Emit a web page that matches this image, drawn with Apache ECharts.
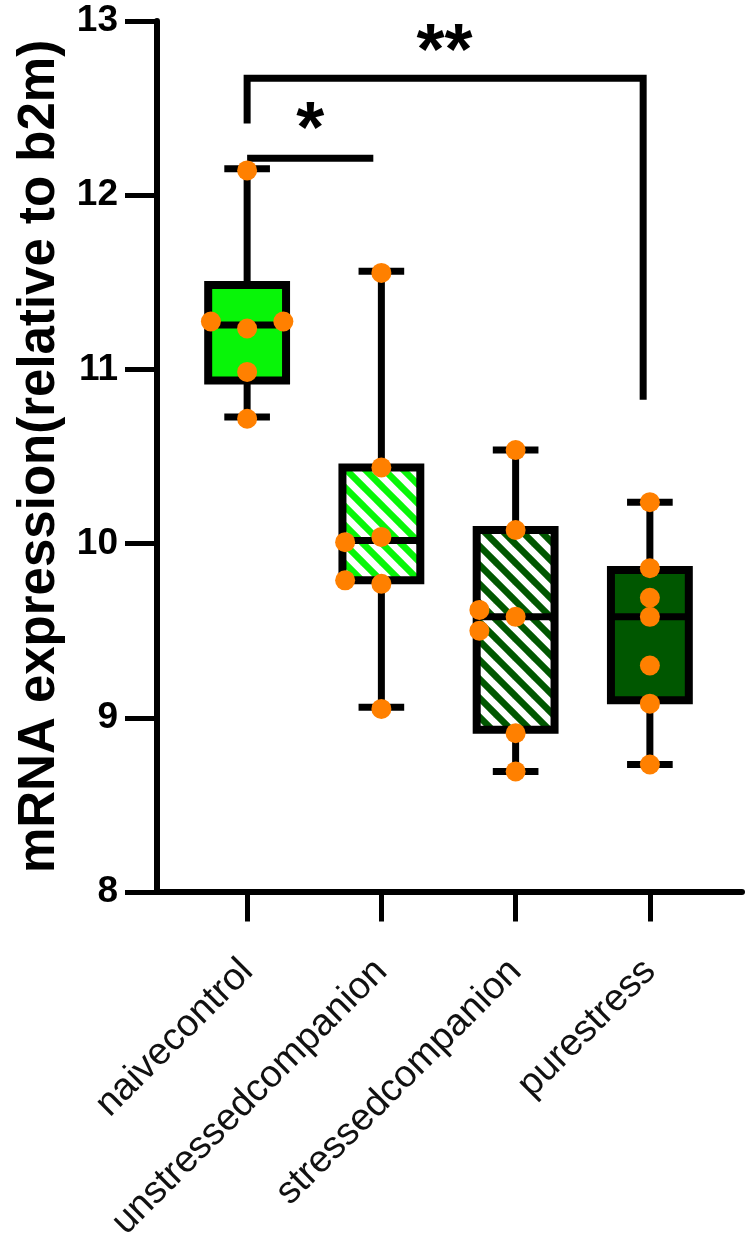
<!DOCTYPE html>
<html>
<head>
<meta charset="utf-8">
<script src="https://cdn.jsdelivr.net/npm/echarts@6/dist/echarts.min.js"></script>
<style>
  html, body { margin: 0; padding: 0; background: #fff; }
  #chart { width: 748px; height: 1244px; }
</style>
</head>
<body>
<div id="chart"></div>
<script>
// groups on the x axis
var categories = ['naivecontrol', 'unstressedcompanion', 'stressedcompanion', 'purestress'];

// box stats: [min, q1, median, q3, max]
var naiveBox = [10.72, 10.93, 11.25, 11.48, 12.15];
var unstressedBox = [9.05, 9.78, 10.01, 10.43, 11.56];
var stressedBox = [8.68, 8.92, 9.57, 10.07, 10.53];
var pureBox = [8.72, 9.09, 9.57, 9.84, 10.23];

// individual animals
var naivePts = [12.14, 11.27, 11.23, 11.27, 10.98, 10.71];
var unstressedPts = [11.55, 10.43, 10.0, 10.03, 9.78, 9.76, 9.04];
var stressedPts = [10.53, 10.07, 9.61, 9.57, 9.49, 8.90, 8.68];
var purePts = [10.23, 9.85, 9.68, 9.57, 9.29, 9.07, 8.72];
// horizontal jitter of the dots, in category units
var naiveJit = [0, -0.27, 0, 0.27, 0, 0];
var unstressedJit = [0, 0, -0.27, 0, -0.27, 0, 0];
var stressedJit = [0, 0, -0.27, 0, -0.27, 0, 0];
var pureJit = [0, 0, 0, 0, 0, 0, 0];

// significance brackets
var sigFrom = [0, 0];
var sigTo = [2.95, 0.94];
var sigTop = [12.67, 12.21];
var sigLeftEnd = [12.41, 12.21];
var sigRightEnd = [10.82, 12.21];
var sigText = ['**', '*'];
var sigTextX = [1.47, 0.47];
var sigTextY = [12.81, 12.36];

var yTicks = [8, 9, 10, 11, 12, 13];

var FONT = '"Liberation Sans", Arial, sans-serif';
var BRIGHT = '#08f508';
var DARK = '#005700';

function stripes(bg) {
    var s = 19;
    var c = document.createElement('canvas');
    c.width = s; c.height = s;
    var g = c.getContext('2d');
    g.fillStyle = bg;
    g.fillRect(0, 0, s, s);
    g.strokeStyle = '#fff';
    g.lineWidth = s * 0.36;
    for (var k = -1; k <= 1; k++) {
        g.beginPath();
        g.moveTo(-s, -s + k * s);
        g.lineTo(2 * s, 2 * s + k * s);
        g.stroke();
    }
    return { image: c, repeat: 'repeat' };
}

var fills = [BRIGHT, stripes(BRIGHT), stripes(DARK), DARK];

var boxes = [naiveBox, unstressedBox, stressedBox, pureBox];
var boxData = boxes.map(function (b, i) { return [i].concat(b); });

var pts = [naivePts, unstressedPts, stressedPts, purePts];
var jit = [naiveJit, unstressedJit, stressedJit, pureJit];
var dotData = [];
pts.forEach(function (arr, i) {
    arr.forEach(function (v, j) { dotData.push([i + jit[i][j], v]); });
});

var sigData = sigFrom.map(function (f, i) {
    return [f, sigTo[i], sigTop[i], sigLeftEnd[i], sigRightEnd[i], sigTextX[i], sigTextY[i]];
});

function renderBox(params, api) {
    var i = api.value(0);
    var lo = api.coord([i, api.value(1)]);
    var q1 = api.coord([i, api.value(2)]);
    var md = api.coord([i, api.value(3)]);
    var q3 = api.coord([i, api.value(4)]);
    var hi = api.coord([i, api.value(5)]);
    var band = api.size([1, 0])[0];
    var bw = band * 0.58, cw = band * 0.34;
    var x = hi[0];
    var line = { stroke: '#000', lineWidth: 7 };
    return {
        type: 'group',
        children: [
            { type: 'line', shape: { x1: x, y1: hi[1], x2: x, y2: q3[1] }, style: line },
            { type: 'line', shape: { x1: x, y1: q1[1], x2: x, y2: lo[1] }, style: line },
            { type: 'line', shape: { x1: x - cw / 2, y1: hi[1], x2: x + cw / 2, y2: hi[1] }, style: line },
            { type: 'line', shape: { x1: x - cw / 2, y1: lo[1], x2: x + cw / 2, y2: lo[1] }, style: line },
            { type: 'rect', shape: { x: x - bw / 2, y: q3[1], width: bw, height: q1[1] - q3[1] },
              style: { fill: fills[i], stroke: '#000', lineWidth: 8 } },
            { type: 'line', shape: { x1: x - bw / 2, y1: md[1], x2: x + bw / 2, y2: md[1] }, style: line }
        ]
    };
}

function renderSig(params, api) {
    var i = params.dataIndex;
    var a = api.coord([api.value(0), api.value(2)]);
    var b = api.coord([api.value(1), api.value(2)]);
    var aEnd = api.coord([api.value(0), api.value(3)]);
    var bEnd = api.coord([api.value(1), api.value(4)]);
    var t = api.coord([api.value(5), api.value(6)]);
    return {
        type: 'group',
        children: [
            { type: 'polyline', shape: { points: [[aEnd[0], aEnd[1]], [a[0], a[1]], [b[0], b[1]], [bEnd[0], bEnd[1]]] },
              style: { stroke: '#000', lineWidth: 7, fill: null } },
            { type: 'text', x: t[0], y: t[1],
              style: { text: sigText[i], font: 'bold 72px ' + FONT, fill: '#000', align: 'center', verticalAlign: 'middle' } }
        ]
    };
}

var chart = echarts.init(document.getElementById('chart'));
chart.setOption({
    backgroundColor: '#fff',
    animation: false,
    grid: [
        { left: 157, right: 6, top: 21, bottom: 352 },
        { left: 180, width: 537, top: 21, bottom: 352 }
    ],
    xAxis: [
        { type: 'value', gridIndex: 0, min: 0, max: 1,
          axisLine: { show: true, lineStyle: { color: '#000', width: 6 } },
          axisTick: { show: false }, axisLabel: { show: false }, splitLine: { show: false } },
        { type: 'category', gridIndex: 1, data: categories, boundaryGap: true,
          axisLine: { show: false },
          axisTick: { show: true, alignWithLabel: true, length: 32, lineStyle: { color: '#000', width: 5 } },
          axisLabel: { rotate: 45, margin: 76, fontSize: 38, fontFamily: FONT, color: '#111', interval: 0 } },
        { type: 'value', gridIndex: 1, min: -0.5, max: 3.5, show: false }
    ],
    yAxis: [
        { type: 'value', gridIndex: 0, min: yTicks[0], max: yTicks[yTicks.length - 1], interval: 1,
          axisLine: { show: true, lineStyle: { color: '#000', width: 6 } },
          axisTick: { show: true, length: 32, lineStyle: { color: '#000', width: 5 } },
          axisLabel: { margin: 39, fontSize: 37, fontWeight: 'bold', fontFamily: FONT, color: '#000' },
          splitLine: { show: false },
          name: 'mRNA expression(relative to b2m)', nameLocation: 'middle', nameGap: 92,
          nameTextStyle: { fontSize: 51, fontWeight: 'bold', fontFamily: FONT, color: '#000' } },
        { type: 'value', gridIndex: 1, min: 8, max: 13, show: false }
    ],
    series: [
        { type: 'custom', xAxisIndex: 2, yAxisIndex: 1, renderItem: renderBox, data: boxData, z: 2 },
        { type: 'scatter', xAxisIndex: 2, yAxisIndex: 1, data: dotData, symbolSize: 20,
          itemStyle: { color: '#ff8000', opacity: 1 }, z: 3, clip: false },
        { type: 'custom', xAxisIndex: 2, yAxisIndex: 1, renderItem: renderSig, data: sigData, z: 2, clip: false }
    ]
});
</script>
</body>
</html>
